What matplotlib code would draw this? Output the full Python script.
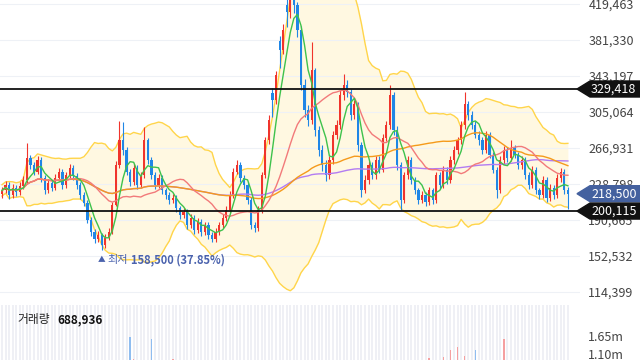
import matplotlib
matplotlib.use('Agg')
import matplotlib.pyplot as plt
import numpy as np
import pandas as pd
from matplotlib.patches import Polygon
from matplotlib.transforms import blended_transform_factory

plt.rcParams['font.family'] = ['Noto Sans CJK KR', 'DejaVu Sans']

# daily prices in thousands of won
opens = [218, 222, 228, 217, 225, 220, 227, 233, 256, 249,
         242, 254, 235, 222, 230, 225, 235, 242, 228, 238,
         246, 237, 228, 217, 209, 191, 178, 170, 175, 164,
         172, 178, 207, 249, 275, 265, 242, 231, 246, 228,
         238, 275, 254, 238, 228, 235, 222, 217, 212, 214,
         203, 196, 199, 185, 193, 180, 189, 178, 185, 175,
         170, 178, 185, 193, 201, 217, 242, 249, 235, 228,
         212, 185, 182, 201, 238, 275, 325, 318, 380, 371,
         418, 411, 429, 418, 392, 334, 307, 297, 350, 286,
         265, 249, 238, 254, 281, 291, 323, 334, 326, 302,
         313, 270, 222, 233, 249, 238, 254, 244, 278, 291,
         323, 286, 249, 212, 238, 254, 233, 222, 212, 217,
         210, 222, 212, 238, 228, 244, 233, 254, 265, 275,
         291, 313, 302, 291, 281, 275, 265, 281, 260, 244,
         222, 254, 265, 256, 267, 260, 249, 254, 238, 228,
         244, 222, 217, 233, 214, 225, 217, 235, 242, 222]
highs = [226, 232, 231, 229, 228, 231, 237, 272, 260, 252,
         258, 257, 238, 234, 233, 239, 246, 245, 242, 250,
         249, 240, 231, 220, 212, 194, 181, 179, 177, 176,
         182, 210, 253, 296, 294, 268, 245, 250, 249, 242,
         289, 278, 257, 241, 239, 238, 225, 220, 218, 217,
         206, 203, 202, 197, 196, 193, 192, 189, 188, 178,
         182, 189, 197, 205, 221, 246, 254, 252, 238, 231,
         215, 189, 205, 242, 279, 302, 330, 349, 386, 398,
         425, 438, 436, 422, 396, 340, 312, 379, 352, 290,
         270, 254, 258, 285, 297, 328, 345, 339, 329, 318,
         316, 273, 238, 253, 252, 258, 258, 282, 296, 334,
         326, 290, 252, 242, 258, 257, 236, 225, 221, 220,
         226, 225, 242, 241, 248, 247, 258, 269, 279, 296,
         326, 317, 306, 295, 285, 279, 285, 284, 263, 247,
         258, 269, 268, 275, 270, 263, 258, 257, 241, 248,
         247, 225, 237, 236, 229, 228, 239, 246, 245, 226]
lows = [214, 219, 213, 214, 216, 217, 224, 230, 245, 238,
        239, 231, 218, 219, 221, 222, 232, 224, 225, 235,
        233, 224, 213, 205, 187, 174, 166, 167, 158.5, 161,
        169, 176, 205, 246, 260, 238, 227, 228, 224, 225,
        235, 250, 234, 224, 225, 218, 213, 208, 209, 199,
        192, 193, 181, 182, 176, 177, 174, 175, 171, 167,
        167, 175, 182, 190, 198, 214, 239, 231, 224, 208,
        181, 178, 179, 198, 235, 271, 300, 314, 352, 366,
        395, 405, 410, 385, 328, 300, 290, 292, 280, 258,
        243, 232, 234, 250, 276, 287, 318, 321, 297, 298,
        264, 215, 219, 229, 234, 234, 240, 241, 274, 287,
        281, 244, 201, 209, 234, 229, 218, 208, 209, 206,
        207, 208, 209, 224, 225, 229, 230, 250, 261, 271,
        287, 297, 287, 277, 270, 261, 262, 256, 240, 214,
        219, 250, 252, 253, 256, 245, 245, 234, 224, 225,
        218, 213, 214, 210, 211, 213, 214, 231, 218, 202]
closes = [222, 228, 217, 225, 220, 227, 233, 256, 249, 242,
          254, 235, 222, 230, 225, 235, 242, 228, 238, 246,
          237, 228, 217, 209, 191, 178, 170, 175, 164, 172,
          178, 207, 249, 275, 265, 242, 231, 246, 228, 238,
          275, 254, 238, 228, 235, 222, 217, 212, 214, 203,
          196, 199, 185, 193, 180, 189, 178, 185, 175, 170,
          178, 185, 193, 201, 217, 242, 249, 235, 228, 212,
          185, 182, 201, 238, 275, 297, 318, 344, 371, 392,
          411, 429, 418, 392, 334, 307, 297, 350, 286, 265,
          249, 238, 254, 281, 291, 323, 334, 326, 302, 313,
          270, 222, 233, 249, 238, 254, 244, 278, 291, 323,
          286, 249, 212, 238, 254, 233, 222, 212, 217, 210,
          222, 212, 238, 228, 244, 233, 254, 265, 275, 291,
          313, 302, 291, 281, 275, 265, 281, 260, 244, 222,
          254, 265, 256, 267, 260, 249, 254, 238, 228, 244,
          222, 217, 233, 214, 225, 217, 235, 242, 222, 218.5]
# volume in thousands of shares
volumes = [420, 380, 510, 460, 390, 440, 520, 880, 610, 470,
           560, 480, 400, 370, 350, 420, 450, 390, 410, 470,
           430, 380, 450, 520, 690, 720, 610, 480, 650, 520,
           470, 820, 900, 870, 760, 640, 1620, 950, 700, 820,
           880, 660, 1560, 540, 470, 430, 400, 380, 950, 420,
           460, 390, 510, 420, 470, 390, 440, 380, 460, 520,
           430, 410, 450, 480, 620, 780, 690, 540, 480, 560,
           640, 520, 600, 780, 860, 820, 880, 760, 840, 900,
           870, 890, 850, 880, 820, 740, 650, 860, 700, 560,
           520, 480, 450, 560, 620, 700, 760, 580, 540, 500,
           620, 700, 520, 480, 440, 500, 460, 620, 680, 760,
           640, 560, 610, 520, 480, 430, 400, 380, 420, 390,
           980, 410, 520, 460, 1000, 480, 1220, 560, 1310, 640,
           1040, 580, 520, 1220, 480, 440, 520, 480, 560, 620,
           540, 1560, 500, 620, 480, 450, 420, 470, 430, 510,
           480, 420, 560, 530, 440, 400, 520, 480, 560, 688.936]

price_ticks = [114399, 152532, 190665, 228798, 266931, 305064, 343197, 381330, 419463]
support_lines = [329418, 200115]
vol_ticks = [1.10e6, 1.65e6]

o = np.array(opens) * 1000
h = np.array(highs) * 1000
l = np.array(lows) * 1000
c = np.array(closes) * 1000
v = np.array(volumes) * 1000
x = np.arange(len(c))

RED = '#f0342c'
BLUE = '#1f86e6'

s = pd.Series(c)
ma5 = s.rolling(5, min_periods=1).mean()
ma20 = s.rolling(20, min_periods=1).mean()
ma60 = s.rolling(60, min_periods=1).mean()
ma120 = s.rolling(120, min_periods=1).mean()
sd20 = s.rolling(20, min_periods=2).std(ddof=0).bfill()
bb_up = ma20 + 2 * sd20
bb_dn = ma20 - 2 * sd20

fig = plt.figure(figsize=(6.4, 3.6), dpi=100)
ax = fig.add_axes([0, 60 / 360, 580 / 640, 300 / 360])
vax = fig.add_axes([0, -30 / 360, 580 / 640, 85 / 360])

# bollinger band
ax.fill_between(x, bb_dn, bb_up, color='#fff8e1', lw=0, zorder=0.5)
ax.plot(x, bb_up, color='#ffd54a', lw=1, zorder=1.5)
ax.plot(x, bb_dn, color='#ffd54a', lw=1, zorder=1.5)

# candles
up = c >= o
cols = np.where(up, RED, BLUE)
ax.vlines(x, l, h, colors=cols, lw=0.8, zorder=2)
ax.bar(x, np.maximum(np.abs(c - o), 900), bottom=np.minimum(o, c), width=0.62,
       color=cols, lw=0, zorder=2)

# moving averages
ax.plot(x, ma120, color='#b27cf2', lw=1, zorder=3)
ax.plot(x, ma60, color='#f59a1b', lw=1, zorder=3)
ax.plot(x, ma20, color='#f27a7a', lw=1, zorder=3)
ax.plot(x, ma5, color='#3ec24c', lw=1, zorder=3)

for lv in support_lines:
    ax.axhline(lv, color='#111111', lw=1.3, zorder=4)

ax.set_xlim(-0.56, 162.4)
ax.set_ylim(105900, 423700)
ax.set_yticks(price_ticks)
ax.set_yticklabels([f'{t:,}' for t in price_ticks])
ax.yaxis.tick_right()
ax.tick_params(axis='y', length=0, pad=6, labelsize=9, labelcolor='#444444')
ax.set_xticks([])
ax.grid(axis='y', color='#eef1f6', lw=0.8)
ax.set_axisbelow(True)
for sp in ax.spines.values():
    sp.set_visible(False)

# lowest price note
lo_i = int(np.argmin(l))
lo = l[lo_i]
pct = (c[-1] - lo) / lo * 100
ax.text(26.9, 148300, '▲', fontsize=5.5, color='#4a62ad', va='center')
ax.text(29.5, 148300, '최저', fontsize=8, color='#4a62ad', va='center')
ax.text(36.2, 148300, f'{lo:,.0f} ({pct:.2f}%)', fontsize=8, color='#4a62ad',
        va='center', fontweight='bold')

# price tags on the right
tr = blended_transform_factory(fig.transFigure, ax.transData)
hh = (423700 - 105900) / 300 * 8
tags = [(support_lines[0], '#111111'), (c[-1], '#44619f'), (support_lines[1], '#111111')]
for val, col in tags:
    pts = [(577 / 640, val), (590 / 640, val + hh), (1.0, val + hh),
           (1.0, val - hh), (590 / 640, val - hh)]
    fig.add_artist(Polygon(pts, closed=True, transform=tr, color=col, zorder=10))
    fig.text(591 / 640, val, f'{val:,.0f}', transform=tr, color='white', fontsize=9,
             va='center', ha='left', zorder=11)

# volume panel
vax.vlines(x, 0, 2.6e6, colors='#eceef3', lw=1.2, zorder=0)
vcols = np.where(up, '#f5a0a0', '#8fbdf0')
vax.bar(x, v, width=0.4, color=vcols, lw=0, zorder=2)
vax.set_xlim(-0.56, 162.4)
vax.set_ylim(0, 2.597e6)
vax.set_yticks(vol_ticks)
vax.set_yticklabels([f'{t / 1e6:.2f}m' for t in vol_ticks])
vax.yaxis.tick_right()
vax.tick_params(axis='y', length=0, pad=6, labelsize=9, labelcolor='#444444')
vax.set_xticks([])
for sp in vax.spines.values():
    sp.set_visible(False)

fig.text(17 / 640, 1 - 320 / 360, '거래량', fontsize=8.5, color='#222222', va='center')
fig.text(57 / 640, 1 - 320 / 360, f'{v[-1]:,.0f}', fontsize=8.5, color='#111111',
         va='center', fontweight='bold')

fig.savefig('out.png', dpi=100)
